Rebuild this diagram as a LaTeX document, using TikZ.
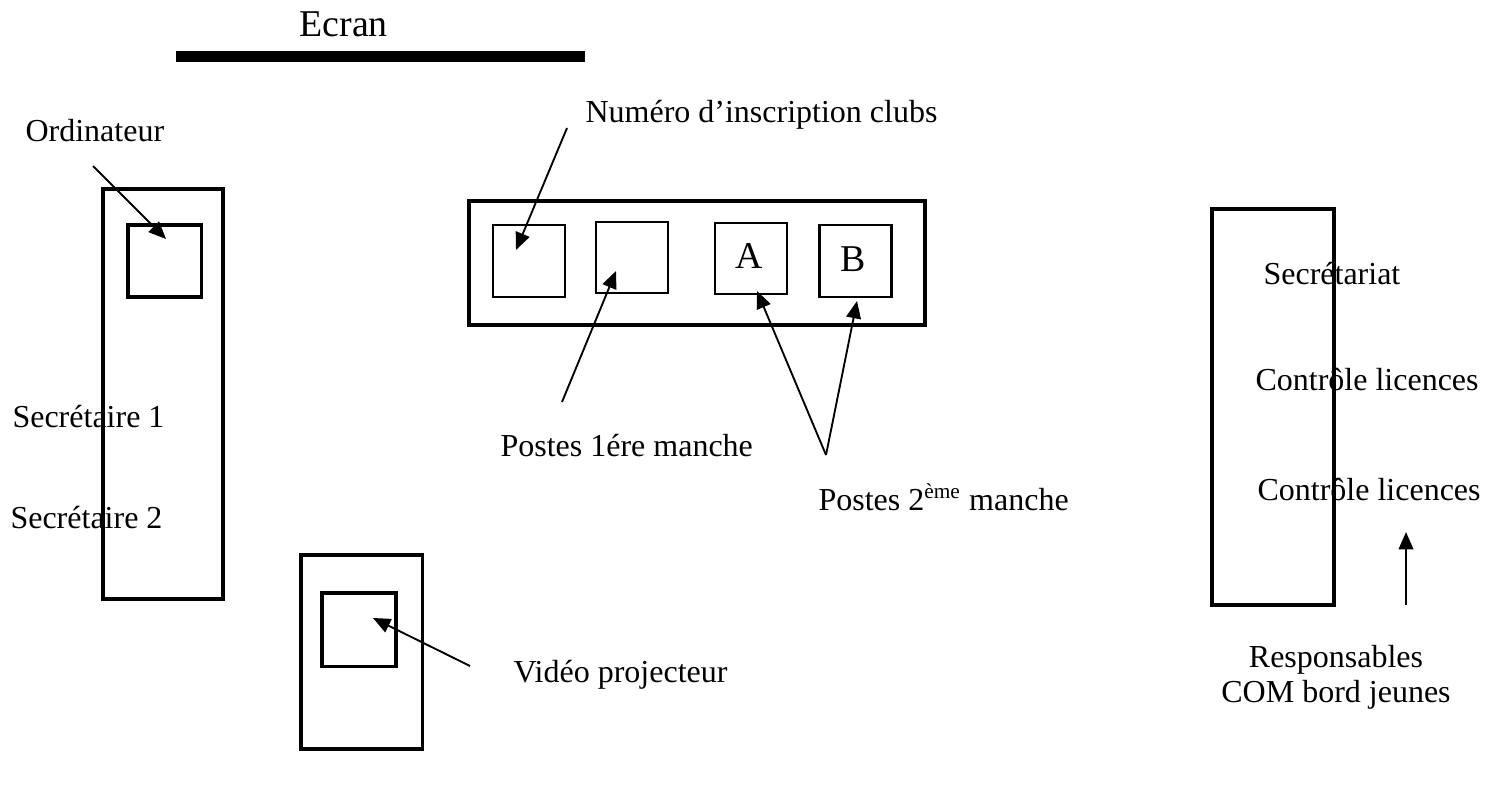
\documentclass[tikz,border=0pt]{standalone}
\usepackage{fontspec}
\setmainfont{Liberation Serif}
\usetikzlibrary{arrows.meta}
\begin{document}
\begin{tikzpicture}[x=0.375pt,y=-0.375pt,
  lbl/.style={anchor=base west,inner sep=0pt,font=\fontsize{12}{14}\selectfont},
  bigbox/.style={draw,line width=1.15pt,inner sep=0pt},
  smallbox/.style={draw,line width=0.8pt,inner sep=0pt,minimum width=27pt,minimum height=27pt},
  conn/.style={line width=0.7pt,-{Triangle[length=6.5pt,width=5.5pt]}},
  plain/.style={line width=0.7pt}]
\useasboundingbox (0,0) rectangle (1496,792);
% Ecran
\fill (176,51) rectangle (585,62);
\node[lbl,font=\fontsize{14.2}{16}\selectfont] (ecran) at (299,37) {Ecran};
% left desk
\node[bigbox,minimum width=45pt,minimum height=153.75pt] (desk) at (163,394) {};
\node[bigbox,minimum width=27.4pt,minimum height=27pt] (ordi) at (164.5,261) {};
\node[lbl] (ordlbl) at (25,141) {Ordinateur};
\coordinate (ordS) at (93,166);
\coordinate (ordT) at (166,239);
\draw[conn] (ordS) -- (ordT);
\node[lbl] (sec1) at (12,427) {Secrétaire 1};
\node[lbl] (sec2) at (10,528) {Secrétaire 2};
% middle row
\node[bigbox,minimum width=171pt,minimum height=46.5pt] (row) at (697,263) {};
\node[smallbox] (b1) at (529,261) {};
\node[smallbox,minimum height=26.6pt] (b2) at (632,257.5) {};
\node[smallbox,minimum height=26.6pt] (bA) at (751,258.5) {};
\node[smallbox] (bB) at (855.5,261) {};
\node[anchor=base,inner sep=0pt,font=\fontsize{14.2}{16}\selectfont] (la) at (749,268) {A};
\node[anchor=base,inner sep=0pt,font=\fontsize{14.2}{16}\selectfont] (lb) at (853,271) {B};
\node[lbl] (num) at (585,122) {Numéro d’inscription clubs};
\coordinate (numS) at (567,128);
\coordinate (numT) at (516,250);
\draw[conn] (numS) -- (numT);
\node[lbl] (p1) at (500,456) {Postes 1ére manche};
\coordinate (p1S) at (562,402);
\coordinate (p1T) at (616,271);
\draw[conn] (p1S) -- (p1T);
\node[lbl] (p2) at (818,510) {Postes 2\textsuperscript{ème} manche};
\coordinate (p2S) at (826,455);
\coordinate (p2A) at (757,291);
\coordinate (p2B) at (857,301);
\draw[conn] (p2S) -- (p2A);
\draw[conn] (p2S) -- (p2B);
% projector
\node[bigbox,minimum width=45.4pt,minimum height=72.75pt] (proj) at (361.5,652) {};
\node[bigbox,minimum width=27.75pt,minimum height=27.4pt] (projin) at (359,629.5) {};
\node[lbl] (vid) at (513,682) {Vidéo projecteur};
\coordinate (vidS) at (470,666);
\coordinate (vidT) at (373,618);
\draw[conn] (vidS) -- (vidT);
% right desk
\node[bigbox,minimum width=45.75pt,minimum height=148.5pt] (rdesk) at (1273,407) {};
\node[lbl] (secr) at (1263,284) {Secrétariat};
\node[lbl] (ctl1) at (1255,390) {Contrôle licences};
\node[lbl] (ctl2) at (1257,500) {Contrôle licences};
\node[anchor=base,inner sep=0pt,font=\fontsize{12}{14}\selectfont] (resp) at (1336,667) {Responsables};
\node[anchor=base,inner sep=0pt,font=\fontsize{12}{14}\selectfont] (com) at (1336,702) {COM bord jeunes};
\coordinate (respS) at (1406,605);
\coordinate (respT) at (1406,532);
\draw[conn] (respS) -- (respT);
\end{tikzpicture}
\end{document}
